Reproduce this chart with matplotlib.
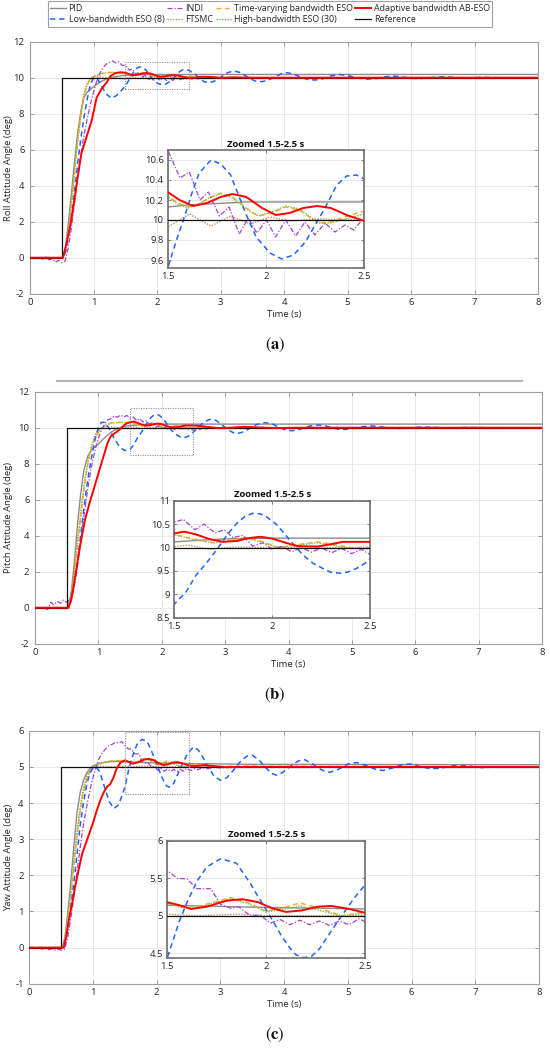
import numpy as np
import matplotlib.pyplot as plt
from matplotlib.patches import Rectangle
from matplotlib.lines import Line2D
from matplotlib.ticker import FormatStrFormatter

plt.rcParams['font.family'] = ['Open Sans', 'DejaVu Sans']
plt.rcParams['axes.unicode_minus'] = False
plt.rcParams['mathtext.fontset'] = 'stix'

# ---- data: (time s, angle deg) ----
labels = ['PID', 'Low-bandwidth ESO (8)', 'INDI', 'FTSMC',
          'Time-varying bandwidth ESO', 'High-bandwidth ESO (30)',
          'Adaptive bandwidth AB-ESO', 'Reference']

# (a) roll
roll_ref = [(0, 0), (0.5, 0), (0.5, 10), (8, 10)]
roll_pid = [(0, 0), (0.52, 0), (0.56, 0.6), (0.6, 1.8), (0.65, 3.5), (0.7, 5.3), (0.75, 6.9), (0.8, 8.1),
            (0.85, 8.9), (0.9, 9.2), (1.0, 9.5), (1.1, 9.75), (1.2, 9.92), (1.3, 10.03), (1.4, 10.09),
            (1.5, 10.13), (1.6, 10.15), (1.7, 10.16), (1.8, 10.17), (1.9, 10.18), (8, 10.18)]
roll_low = [(0, 0), (0.52, 0), (0.56, 0.3), (0.6, 1.0), (0.65, 2.1), (0.7, 3.6), (0.75, 5.2), (0.8, 6.6),
            (0.85, 7.8), (0.9, 8.8), (0.95, 9.6), (1.0, 10.0), (1.05, 10.0), (1.1, 9.7), (1.2, 9.1),
            (1.28, 8.86), (1.36, 9.0), (1.44, 9.3), (1.5, 9.52), (1.55, 9.83), (1.58, 10.0), (1.62, 10.25),
            (1.66, 10.47), (1.72, 10.6), (1.77, 10.56), (1.82, 10.45), (1.86, 10.25), (1.9, 10.05),
            (1.95, 9.83), (2.02, 9.67), (2.08, 9.61), (2.14, 9.65), (2.2, 9.78), (2.25, 9.95), (2.3, 10.12),
            (2.36, 10.35), (2.41, 10.44), (2.46, 10.45), (2.5, 10.41), (2.58, 10.25), (2.66, 10.0),
            (2.74, 9.78), (2.81, 9.72), (2.9, 9.8), (3.0, 10.02), (3.1, 10.26), (3.2, 10.38), (3.3, 10.3),
            (3.42, 10.05), (3.54, 9.82), (3.65, 9.78), (3.75, 9.86), (3.86, 10.06), (3.96, 10.22),
            (4.05, 10.28), (4.15, 10.2), (4.27, 10.02), (4.38, 9.9), (4.49, 9.87), (4.6, 9.93),
            (4.74, 10.1), (4.88, 10.18), (5.0, 10.12), (5.15, 9.99), (5.3, 9.92), (5.45, 9.95),
            (5.6, 10.05), (5.72, 10.09), (5.85, 10.05), (6.0, 9.97), (6.13, 9.95), (6.3, 10.0),
            (6.5, 10.05), (6.7, 10.01), (6.9, 9.98), (7.1, 10.02), (7.4, 10.0), (8, 10.0)]
roll_indi = [(0, 0), (0.15, 0), (0.2, -0.08), (0.25, 0.05), (0.3, -0.12), (0.35, -0.04), (0.4, -0.25),
             (0.45, -0.15), (0.5, -0.28), (0.55, -0.2), (0.6, 0.5), (0.65, 1.6), (0.7, 3.0), (0.75, 4.4),
             (0.8, 5.7), (0.85, 6.8), (0.9, 7.7), (0.95, 8.5), (1.0, 9.2), (1.05, 9.8), (1.1, 10.25),
             (1.15, 10.55), (1.2, 10.75), (1.25, 10.85), (1.3, 10.93), (1.35, 10.82), (1.4, 10.88),
             (1.45, 10.68), (1.5, 10.7), (1.563, 10.42), (1.61, 10.48), (1.664, 10.2), (1.707, 10.28),
             (1.763, 10.04), (1.812, 10.13), (1.864, 9.86), (1.91, 10.02), (1.953, 9.87), (2.003, 10.0),
             (2.049, 9.83), (2.1, 10.0), (2.151, 9.84), (2.198, 9.98), (2.249, 9.85), (2.3, 9.97),
             (2.351, 9.88), (2.402, 9.95), (2.447, 9.9), (2.5, 10.03), (2.55, 9.92), (2.6, 10.01),
             (2.65, 9.93), (2.7, 10.01), (2.75, 9.95), (2.8, 10.01), (2.85, 9.96), (2.9, 10.01),
             (2.95, 9.97), (3.0, 10.01), (3.05, 9.98), (3.1, 10.0), (8, 10.0)]
roll_ftsmc = [(0, 0), (0.52, 0), (0.56, 0.5), (0.6, 1.5), (0.65, 3.0), (0.7, 4.8), (0.75, 6.6), (0.8, 8.0),
              (0.85, 9.1), (0.9, 9.7), (0.95, 9.98), (1.0, 10.06), (1.1, 10.05), (1.2, 9.98), (1.3, 10.04),
              (1.4, 9.97), (1.5, 9.93), (1.61, 10.06), (1.72, 9.94), (1.82, 10.04), (1.92, 9.96),
              (2.02, 10.03), (2.12, 9.99), (2.25, 10.01), (2.5, 10.0), (8, 10.0)]
roll_tv = [(0, 0), (0.52, 0), (0.56, 0.4), (0.6, 1.3), (0.65, 2.8), (0.7, 4.6), (0.75, 6.4), (0.8, 7.9),
           (0.85, 9.0), (0.9, 9.6), (0.95, 9.9), (1.0, 10.05), (1.1, 10.2), (1.2, 10.28), (1.3, 10.3),
           (1.4, 10.28), (1.5, 10.24), (1.55, 10.17), (1.605, 10.13), (1.66, 10.16), (1.72, 10.23),
           (1.77, 10.27), (1.83, 10.23), (1.9, 10.12), (1.96, 10.04), (2.03, 10.07), (2.1, 10.13),
           (2.17, 10.1), (2.22, 10.03), (2.27, 9.97), (2.33, 9.98), (2.4, 10.03), (2.5, 10.09),
           (2.6, 10.06), (2.72, 9.99), (2.9, 10.03), (3.1, 10.0), (8, 10.0)]
roll_high = [(0, 0), (0.52, 0), (0.56, 0.45), (0.6, 1.4), (0.65, 2.9), (0.7, 4.7), (0.75, 6.5), (0.8, 8.0),
             (0.85, 9.05), (0.9, 9.62), (0.95, 9.92), (1.0, 10.06), (1.1, 10.2), (1.2, 10.27), (1.3, 10.29),
             (1.4, 10.27), (1.5, 10.23), (1.55, 10.16), (1.605, 10.12), (1.66, 10.16), (1.72, 10.23),
             (1.77, 10.26), (1.83, 10.22), (1.9, 10.11), (1.96, 10.04), (2.03, 10.08), (2.1, 10.14),
             (2.17, 10.11), (2.22, 10.04), (2.27, 9.97), (2.33, 9.97), (2.4, 10.01), (2.5, 10.06),
             (2.6, 10.05), (2.72, 9.99), (2.9, 10.02), (3.1, 10.0), (8, 10.0)]
roll_ab = [(0, 0), (0.52, 0), (0.575, 0.8), (0.63, 1.7), (0.69, 3.0), (0.76, 4.7), (0.81, 5.8), (0.89, 6.7),
           (0.97, 7.6), (1.05, 8.9), (1.13, 9.4), (1.2, 9.7), (1.27, 10.1), (1.34, 10.25), (1.42, 10.3),
           (1.5, 10.28), (1.56, 10.2), (1.63, 10.14), (1.7, 10.17), (1.77, 10.23), (1.83, 10.26),
           (1.9, 10.23), (1.98, 10.12), (2.05, 10.05), (2.12, 10.07), (2.19, 10.12), (2.26, 10.14),
           (2.33, 10.12), (2.41, 10.05), (2.5, 9.99), (2.6, 10.0), (2.7, 10.05), (2.85, 10.04),
           (3.0, 9.99), (3.2, 10.02), (3.5, 10.0), (8, 10.0)]

# (b) pitch
pitch_ref = [(0, 0), (0.5, 0), (0.5, 10), (8, 10)]
pitch_pid = [(0, 0), (0.52, 0), (0.57, 0.8), (0.62, 2.5), (0.67, 4.6), (0.72, 6.3), (0.77, 7.6), (0.83, 8.4),
             (0.9, 8.8), (1.0, 9.1), (1.1, 9.45), (1.2, 9.75), (1.3, 9.95), (1.4, 10.06), (1.5, 10.12),
             (1.65, 10.16), (1.8, 10.19), (2.0, 10.2), (8, 10.2)]
pitch_low = [(0, 0), (0.52, 0), (0.56, 0.3), (0.6, 0.9), (0.65, 2.0), (0.7, 3.4), (0.75, 4.9), (0.8, 6.3),
             (0.85, 7.5), (0.9, 8.5), (0.95, 9.4), (1.0, 10.0), (1.05, 10.3), (1.1, 10.3), (1.17, 9.95),
             (1.25, 9.4), (1.33, 8.95), (1.4, 8.76), (1.45, 8.72), (1.5, 8.79), (1.56, 9.05), (1.61, 9.4),
             (1.67, 9.7), (1.72, 9.97), (1.77, 10.27), (1.82, 10.52), (1.86, 10.66), (1.9, 10.73),
             (1.94, 10.72), (1.97, 10.66), (2.02, 10.5), (2.06, 10.31), (2.11, 10.06), (2.16, 9.83),
             (2.21, 9.66), (2.26, 9.55), (2.3, 9.47), (2.35, 9.45), (2.39, 9.48), (2.43, 9.55),
             (2.47, 9.65), (2.5, 9.76), (2.58, 10.05), (2.66, 10.3), (2.74, 10.44), (2.79, 10.47),
             (2.86, 10.4), (2.95, 10.15), (3.05, 9.88), (3.13, 9.72), (3.21, 9.69), (3.3, 9.78),
             (3.4, 10.0), (3.5, 10.18), (3.63, 10.28), (3.75, 10.2), (3.85, 10.02), (3.95, 9.88),
             (4.05, 9.83), (4.15, 9.88), (4.27, 10.02), (4.37, 10.12), (4.47, 10.15), (4.58, 10.1),
             (4.7, 9.98), (4.8, 9.91), (4.89, 9.9), (5.0, 9.95), (5.15, 10.05), (5.3, 10.1), (5.45, 10.05),
             (5.6, 9.98), (5.75, 9.96), (5.9, 9.99), (6.1, 10.04), (6.3, 10.02), (6.5, 9.98), (6.8, 10.01),
             (7.2, 10.0), (8, 10.0)]
pitch_indi = [(0, 0), (0.15, 0), (0.2, -0.1), (0.25, 0.3), (0.3, 0.15), (0.35, 0.35), (0.4, 0.25),
              (0.45, 0.42), (0.5, 0.3), (0.55, 0.45), (0.6, 0.9), (0.65, 1.8), (0.7, 3.1), (0.75, 4.5),
              (0.8, 5.8), (0.85, 7.0), (0.9, 8.0), (0.95, 8.8), (1.0, 9.4), (1.05, 9.9), (1.1, 10.2),
              (1.15, 10.45), (1.2, 10.5), (1.25, 10.65), (1.3, 10.58), (1.35, 10.7), (1.4, 10.6),
              (1.45, 10.68), (1.5, 10.54), (1.546, 10.6), (1.606, 10.38), (1.652, 10.5), (1.708, 10.31),
              (1.754, 10.38), (1.8, 10.21), (1.85, 10.26), (1.9, 10.03), (1.955, 10.1), (1.997, 9.97),
              (2.05, 10.02), (2.1, 9.91), (2.15, 10.0), (2.2, 9.9), (2.253, 9.99), (2.304, 9.89),
              (2.355, 9.98), (2.406, 9.87), (2.457, 9.96), (2.5, 9.85), (2.55, 9.96), (2.6, 9.9),
              (2.65, 9.99), (2.7, 9.93), (2.75, 10.0), (2.8, 9.95), (2.85, 10.01), (2.9, 9.97),
              (3.0, 10.01), (3.1, 9.99), (3.2, 10.0), (8, 10.0)]
pitch_ftsmc = [(0, 0), (0.52, 0), (0.56, 0.5), (0.6, 1.5), (0.65, 3.0), (0.7, 4.6), (0.75, 6.1), (0.8, 7.4),
               (0.85, 8.4), (0.9, 9.1), (0.95, 9.6), (1.0, 9.9), (1.08, 10.05), (1.2, 10.05), (1.35, 9.98),
               (1.5, 10.02), (1.57, 10.05), (1.68, 9.96), (1.8, 10.01), (2.0, 10.0), (8, 10.0)]
pitch_tv = [(0, 0), (0.52, 0), (0.56, 0.4), (0.6, 1.3), (0.65, 2.8), (0.7, 4.4), (0.75, 6.0), (0.8, 7.3),
            (0.85, 8.3), (0.9, 9.0), (0.95, 9.45), (1.0, 9.75), (1.1, 10.1), (1.2, 10.25), (1.35, 10.3),
            (1.5, 10.28), (1.6, 10.18), (1.7, 10.1), (1.78, 10.14), (1.86, 10.22), (1.94, 10.14),
            (2.03, 10.0), (2.13, 10.06), (2.23, 10.12), (2.32, 10.06), (2.4, 10.0), (2.5, 10.0),
            (2.65, 10.03), (2.85, 9.98), (3.1, 10.01), (3.4, 10.0), (8, 10.0)]
pitch_high = [(0, 0), (0.52, 0), (0.56, 0.45), (0.6, 1.4), (0.65, 2.9), (0.7, 4.5), (0.75, 6.1), (0.8, 7.4),
              (0.85, 8.35), (0.9, 9.05), (0.95, 9.5), (1.0, 9.8), (1.1, 10.12), (1.2, 10.26), (1.35, 10.3),
              (1.5, 10.27), (1.6, 10.17), (1.7, 10.1), (1.78, 10.15), (1.86, 10.21), (1.94, 10.12),
              (2.03, 10.0), (2.13, 10.05), (2.23, 10.1), (2.32, 10.04), (2.4, 9.98), (2.5, 9.97),
              (2.65, 10.02), (2.85, 9.99), (3.1, 10.01), (3.4, 10.0), (8, 10.0)]
pitch_ab = [(0, 0), (0.53, 0), (0.57, 0.4), (0.61, 1.2), (0.66, 2.3), (0.71, 3.4), (0.79, 4.9), (0.86, 5.8),
            (0.97, 7.1), (1.08, 8.4), (1.15, 9.2), (1.2, 9.55), (1.27, 9.72), (1.33, 9.88), (1.4, 10.12),
            (1.45, 10.25), (1.5, 10.3), (1.55, 10.34), (1.61, 10.28), (1.68, 10.18), (1.75, 10.12),
            (1.82, 10.14), (1.88, 10.2), (1.94, 10.23), (2.0, 10.19), (2.07, 10.1), (2.13, 10.03),
            (2.23, 10.02), (2.3, 10.07), (2.36, 10.12), (2.45, 10.12), (2.5, 10.12), (2.6, 10.1),
            (2.75, 10.03), (2.9, 9.98), (3.1, 10.0), (3.3, 10.05), (3.5, 10.02), (3.8, 9.98),
            (4.2, 10.0), (8, 10.0)]

# (c) yaw
yaw_ref = [(0, 0), (0.5, 0), (0.5, 5), (8, 5)]
yaw_pid = [(0, 0), (0.52, 0), (0.56, 0.3), (0.6, 0.9), (0.65, 1.8), (0.7, 2.8), (0.75, 3.75), (0.8, 4.3),
           (0.85, 4.62), (0.9, 4.83), (0.95, 4.95), (1.0, 5.03), (1.1, 5.1), (1.2, 5.13), (1.35, 5.15),
           (1.5, 5.14), (2.0, 5.11), (2.5, 5.09), (3.5, 5.07), (8, 5.06)]
yaw_low = [(0, 0), (0.52, 0), (0.56, 0.15), (0.6, 0.5), (0.65, 1.1), (0.7, 1.8), (0.75, 2.6), (0.8, 3.4),
           (0.85, 4.0), (0.9, 4.5), (0.95, 4.82), (1.0, 4.97), (1.05, 5.0), (1.1, 4.88), (1.17, 4.5),
           (1.25, 4.05), (1.33, 3.85), (1.4, 3.95), (1.45, 4.18), (1.5, 4.44), (1.53, 4.68), (1.56, 4.92),
           (1.6, 5.18), (1.65, 5.46), (1.7, 5.65), (1.77, 5.76), (1.85, 5.7), (1.92, 5.43), (1.96, 5.25),
           (2.0, 5.08), (2.04, 4.9), (2.08, 4.72), (2.12, 4.57), (2.15, 4.48), (2.19, 4.44), (2.23, 4.46),
           (2.27, 4.56), (2.32, 4.76), (2.39, 5.03), (2.45, 5.25), (2.5, 5.41), (2.58, 5.55), (2.65, 5.47),
           (2.72, 5.28), (2.8, 5.02), (2.9, 4.74), (3.0, 4.63), (3.1, 4.7), (3.2, 4.9), (3.32, 5.16),
           (3.42, 5.3), (3.5, 5.32), (3.6, 5.2), (3.7, 5.0), (3.8, 4.82), (3.88, 4.77), (3.98, 4.85),
           (4.1, 5.02), (4.22, 5.16), (4.32, 5.2), (4.43, 5.1), (4.55, 4.95), (4.65, 4.87), (4.72, 4.85),
           (4.85, 4.93), (5.0, 5.08), (5.14, 5.12), (5.3, 5.03), (5.45, 4.92), (5.56, 4.9), (5.7, 4.97),
           (5.85, 5.06), (5.98, 5.08), (6.15, 5.0), (6.3, 4.95), (6.45, 4.96), (6.65, 5.03), (6.85, 5.03),
           (7.1, 4.98), (7.4, 5.0), (8, 5.0)]
yaw_indi = [(0, 0), (0.15, 0), (0.2, -0.04), (0.25, 0.0), (0.3, -0.06), (0.35, -0.03), (0.4, -0.07),
            (0.45, -0.04), (0.5, -0.07), (0.55, -0.05), (0.6, 0.25), (0.65, 0.8), (0.7, 1.4), (0.75, 2.1),
            (0.8, 2.8), (0.85, 3.4), (0.9, 3.9), (0.95, 4.35), (1.0, 4.7), (1.05, 5.0), (1.1, 5.25),
            (1.15, 5.4), (1.2, 5.5), (1.25, 5.6), (1.3, 5.62), (1.35, 5.68), (1.4, 5.66), (1.45, 5.7),
            (1.5, 5.6), (1.55, 5.5), (1.6, 5.49), (1.65, 5.36), (1.72, 5.36), (1.77, 5.15), (1.82, 5.1),
            (1.86, 5.12), (1.92, 5.0), (1.97, 5.01), (2.02, 4.9), (2.07, 4.95), (2.12, 4.88), (2.17, 4.94),
            (2.22, 4.88), (2.27, 4.93), (2.32, 4.87), (2.37, 4.93), (2.42, 4.88), (2.47, 4.96), (2.5, 4.92),
            (2.55, 4.9), (2.6, 4.95), (2.65, 4.92), (2.7, 4.97), (2.8, 4.95), (2.9, 4.99), (3.0, 4.97),
            (3.2, 5.0), (8, 5.0)]
yaw_ftsmc = [(0, 0), (0.52, 0), (0.56, 0.25), (0.6, 0.75), (0.65, 1.5), (0.7, 2.4), (0.75, 3.2), (0.8, 3.9),
             (0.85, 4.4), (0.9, 4.75), (0.95, 4.93), (1.0, 5.0), (1.1, 5.02), (1.3, 5.0), (1.5, 5.02),
             (1.65, 5.0), (1.85, 5.02), (2.0, 5.0), (8, 5.0)]
yaw_tv = [(0, 0), (0.52, 0), (0.56, 0.2), (0.6, 0.7), (0.65, 1.4), (0.7, 2.3), (0.75, 3.1), (0.8, 3.8),
          (0.85, 4.3), (0.9, 4.65), (0.95, 4.87), (1.0, 4.98), (1.1, 5.08), (1.2, 5.14), (1.35, 5.18),
          (1.5, 5.17), (1.57, 5.12), (1.63, 5.1), (1.72, 5.17), (1.82, 5.24), (1.91, 5.17), (2.0, 5.06),
          (2.08, 5.1), (2.17, 5.17), (2.27, 5.1), (2.38, 5.0), (2.5, 5.05), (2.6, 5.08), (2.75, 5.03),
          (2.95, 5.0), (3.2, 5.02), (8, 5.0)]
yaw_high = [(0, 0), (0.52, 0), (0.56, 0.22), (0.6, 0.72), (0.65, 1.45), (0.7, 2.35), (0.75, 3.15), (0.8, 3.85),
            (0.85, 4.33), (0.9, 4.67), (0.95, 4.88), (1.0, 4.99), (1.1, 5.08), (1.2, 5.13), (1.35, 5.17),
            (1.5, 5.16), (1.57, 5.11), (1.63, 5.09), (1.72, 5.16), (1.82, 5.23), (1.91, 5.16), (2.0, 5.05),
            (2.08, 5.08), (2.17, 5.13), (2.27, 5.07), (2.38, 5.0), (2.5, 5.03), (2.6, 5.05), (2.75, 5.02),
            (2.95, 5.0), (8, 5.0)]
yaw_ab = [(0, 0), (0.54, 0), (0.58, 0.3), (0.62, 0.75), (0.67, 1.2), (0.72, 1.7), (0.78, 2.2), (0.83, 2.6),
          (0.88, 2.85), (0.93, 3.1), (1.0, 3.45), (1.06, 3.8), (1.12, 4.1), (1.17, 4.3), (1.22, 4.45),
          (1.27, 4.52), (1.32, 4.7), (1.37, 4.95), (1.43, 5.12), (1.5, 5.18), (1.56, 5.14), (1.62, 5.09),
          (1.7, 5.12), (1.8, 5.2), (1.88, 5.22), (1.96, 5.18), (2.03, 5.1), (2.1, 5.05), (2.18, 5.07),
          (2.26, 5.12), (2.33, 5.13), (2.42, 5.09), (2.5, 5.04), (2.6, 5.02), (2.75, 5.05), (2.9, 5.02),
          (3.1, 4.99), (3.4, 5.0), (8, 5.0)]

# ---- styles (same order as labels) ----
styles = [
    dict(color='#8c8c8c', ls='-', lw=1.0, zorder=2.0),
    dict(color='#1f63ff', ls=(0, (3.5, 2.5)), lw=1.1, zorder=2.5),
    dict(color='#a640d2', ls=(0, (4, 1.5, 1, 1.5)), lw=0.9, zorder=2.4),
    dict(color='#c89060', ls=(0, (1, 1)), lw=1.0, zorder=2.1),
    dict(color='#ffa020', ls=(0, (3.5, 2.5)), lw=1.0, zorder=2.3),
    dict(color='#5dcc40', ls=(0, (1, 1)), lw=1.0, zorder=2.2),
    dict(color='#ff0000', ls='-', lw=1.4, zorder=2.7),
    dict(color='#111111', ls='-', lw=0.9, zorder=2.6),
]

W, H = 550, 1048
GRID = '#e4e4e4'
TXT = '#262626'


def rect(l, t, r, b):
    return [l / W, 1 - b / H, (r - l) / W, (b - t) / H]


def draw(ax, series):
    hs = []
    for data, st in zip(series, styles):
        d = np.array(data, dtype=float)
        h, = ax.plot(d[:, 0], d[:, 1], **st)
        hs.append(h)
    return hs


panels = [
    dict(series=[roll_pid, roll_low, roll_indi, roll_ftsmc, roll_tv, roll_high, roll_ab, roll_ref],
         ylabel='Roll Attitude Angle (deg)', ylim=(-2, 12), yticks=np.arange(-2, 13, 2),
         main=(30, 41.7, 538, 293.7), inset=(167.7, 150, 364.3, 268.3),
         in_ylim=(9.517, 10.70), in_yticks=[9.6, 9.8, 10, 10.2, 10.4, 10.6],
         box=(9.37, 10.89), cap='a', cap_y=345),
    dict(series=[pitch_pid, pitch_low, pitch_indi, pitch_ftsmc, pitch_tv, pitch_high, pitch_ab, pitch_ref],
         ylabel='Pitch Attitude Angle (deg)', ylim=(-2, 12), yticks=np.arange(-2, 13, 2),
         main=(35, 391.7, 542, 643.7), inset=(174.3, 500.7, 370, 617.7),
         in_ylim=(8.5, 11), in_yticks=[8.5, 9, 9.5, 10, 10.5, 11],
         box=(8.48, 11.08), cap='b', cap_y=695),
    dict(series=[yaw_pid, yaw_low, yaw_indi, yaw_ftsmc, yaw_tv, yaw_high, yaw_ab, yaw_ref],
         ylabel='Yaw Attitude Angle (deg)', ylim=(-1, 6), yticks=np.arange(-1, 7, 1),
         main=(29.3, 730.7, 539, 983.8), inset=(167.3, 840.7, 365, 957.7),
         in_ylim=(4.44, 6.0), in_yticks=[4.5, 5, 5.5, 6],
         box=(4.25, 5.97), cap='c', cap_y=1035),
]

fig = plt.figure(figsize=(W / 100, H / 100), dpi=100)
handles = None

for p in panels:
    l, t, r, b = p['main']
    ax = fig.add_axes(rect(l, t, r, b))
    hs = draw(ax, p['series'])
    if handles is None:
        handles = hs
    ax.set_xlim(0, 8)
    ax.set_ylim(*p['ylim'])
    ax.set_xticks(range(9))
    ax.set_yticks(p['yticks'])
    ax.grid(True, color=GRID, lw=0.6)
    ax.set_axisbelow(True)
    for s in ax.spines.values():
        s.set_color('#a0a0a0')
        s.set_linewidth(0.8)
    ax.tick_params(direction='in', top=True, right=True, length=3, width=0.6,
                   color='#909090', labelsize=6.8, labelcolor=TXT, pad=3)
    ax.tick_params(axis='y', pad=4)
    ax.set_xlabel('Time (s)', fontsize=6.8, color=TXT, labelpad=2)
    ax.set_ylabel(p['ylabel'], fontsize=6.8, color=TXT)
    # label right edge sits about 13 px from the figure edge
    ax.yaxis.set_label_coords((13 - l) / (r - l), 0.5)
    y0, y1 = p['box']
    ax.add_patch(Rectangle((1.5, y0), 1.0, y1 - y0, fill=False, ls=(0, (1, 1.2)),
                           ec='#909090', lw=0.8, zorder=5))

    axi = fig.add_axes(rect(*p['inset']))
    draw(axi, p['series'])
    axi.set_xlim(1.5, 2.5)
    axi.set_ylim(*p['in_ylim'])
    axi.set_xticks([1.5, 2, 2.5])
    axi.set_yticks(p['in_yticks'])
    axi.xaxis.set_major_formatter(FormatStrFormatter('%g'))
    axi.yaxis.set_major_formatter(FormatStrFormatter('%g'))
    axi.grid(True, color=GRID, lw=0.6)
    axi.set_facecolor('white')
    for s in axi.spines.values():
        s.set_color('#6e6e6e')
        s.set_linewidth(1.2)
    axi.tick_params(direction='in', top=True, right=True, length=2.5, width=0.6,
                    color='#6e6e6e', labelsize=6.8, labelcolor=TXT, pad=3)
    axi.set_title('Zoomed 1.5-2.5 s', fontsize=6.8, fontweight='bold', color='#111111', pad=2.5)

    fig.text(0.5, 1 - p['cap_y'] / H, r'$(\mathbf{%s})$' % p['cap'], ha='center', va='center',
             fontsize=12, color='#111111')

# thin separator above panel (b)
fig.add_artist(Line2D([57 / W, 522 / W], [1 - 381 / H] * 2, color='#b4b4b4', lw=1.5))

leg = fig.legend(handles, labels, ncol=4, loc='upper center', bbox_to_anchor=(270 / W, 1 - 1 / H),
                 frameon=True, fancybox=False, edgecolor='#a0a0a0', framealpha=1, fontsize=6.4,
                 handlelength=1.8, handletextpad=0.25, columnspacing=0.3, borderpad=0.3,
                 labelspacing=0.25, borderaxespad=0)
leg.get_frame().set_linewidth(0.8)
for t in leg.get_texts():
    t.set_color(TXT)

fig.savefig('out.png', dpi=100)
